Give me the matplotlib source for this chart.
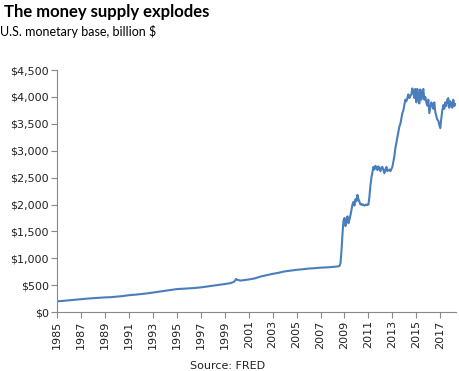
import matplotlib
matplotlib.use('Agg')
import matplotlib.pyplot as plt

# U.S. monetary base, billion $
early_years = [1985.0, 1985.5, 1986.0, 1986.5, 1987.0, 1987.5, 1988.0, 1988.5,
               1989.0, 1989.5, 1990.0, 1990.5, 1991.0, 1991.5, 1992.0, 1992.5,
               1993.0, 1993.5, 1994.0, 1994.5, 1995.0, 1995.5, 1996.0, 1996.5,
               1997.0, 1997.5, 1998.0, 1998.5, 1999.0, 1999.5, 1999.8, 1999.95,
               2000.05, 2000.3, 2000.5, 2001.0, 2001.5, 2002.0, 2002.5, 2003.0,
               2003.5, 2004.0, 2004.5, 2005.0, 2005.5, 2006.0, 2006.5, 2007.0,
               2007.5, 2008.0, 2008.5]
early_vals = [199, 207, 218, 228, 240, 249, 257, 265,
              272, 276, 286, 297, 313, 322, 334, 346,
              362, 378, 396, 412, 426, 432, 440, 447,
              458, 473, 488, 502, 520, 538, 565, 615,
              600, 585, 590, 605, 625, 660, 685, 710,
              730, 755, 770, 785, 795, 808, 815, 825,
              830, 838, 850]

# monthly values from Aug 2008 to Apr 2018
late_start = 2008 + 7 / 12
late_vals = [
    860, 905, 1140, 1450, 1700,
    1750, 1600, 1700, 1780, 1650, 1720, 1800, 1900, 2000, 2050, 1980, 2100,
    2060, 2180, 2100, 2050, 2000, 2010, 1990, 2000, 1980, 1990, 2000, 1990,
    2000, 2150, 2350, 2500, 2600, 2700, 2650, 2720, 2690, 2640, 2710, 2660,
    2620, 2690, 2700, 2640, 2580, 2650, 2700, 2620, 2640, 2650, 2620, 2660,
    2700, 2800, 2900, 3050, 3150, 3250, 3350, 3450, 3500, 3600, 3700, 3750,
    3850, 3950, 3920, 3980, 4050, 3980, 4020, 4050, 4160, 4080, 3980, 4150,
    3900, 4150, 4000, 3880, 4140, 3950, 4060, 4150, 3950, 4000, 3900, 3840,
    3950, 3700, 3800, 3900, 3850, 3780, 3900, 3720, 3650, 3580, 3560, 3480,
    3420, 3600, 3750, 3850, 3780, 3900, 3830, 3950, 3980, 3800, 3920, 3870,
    3800, 3950, 3830, 3870,
]
late_years = [late_start + i / 12 for i in range(len(late_vals))]

years = early_years + late_years
values = early_vals + late_vals

x_ticks = list(range(1985, 2018, 2))
y_ticks = list(range(0, 4501, 500))

fig = plt.figure(figsize=(4.6, 3.71), dpi=100)
ax = fig.add_axes([0.124, 0.159, 0.867, 0.652])
ax.plot(years, values, '-', color='#4a7ebb', linewidth=1.5)

ax.set_xlim(1985, 2018.3)
ax.set_ylim(0, 4500)
ax.set_xticks(x_ticks)
ax.set_xticklabels([str(y) for y in x_ticks], rotation=90, fontsize=8,
                   family='DejaVu Sans')
ax.set_yticks(y_ticks)
ax.set_yticklabels(['${:,}'.format(v) for v in y_ticks], fontsize=8,
                   family='DejaVu Sans')
ax.tick_params(direction='out', length=4, color='#888888', width=0.8,
               labelcolor='#222222', pad=2)

for side in ['top', 'right']:
    ax.spines[side].set_visible(False)
for side in ['left', 'bottom']:
    ax.spines[side].set_color('#888888')
    ax.spines[side].set_linewidth(0.8)

fig.text(0.008, 0.968, 'The money supply explodes', fontsize=12,
         fontweight='bold', family='Lato', va='center', ha='left')
fig.text(0.0, 0.916, 'U.S. monetary base, billion $', fontsize=9,
         family='Lato', va='center', ha='left')
fig.text(0.495, 0.013, 'Source: FRED', fontsize=8, family='DejaVu Sans',
         va='center', ha='center', color='#222222')

plt.savefig('out.png', dpi=100)
